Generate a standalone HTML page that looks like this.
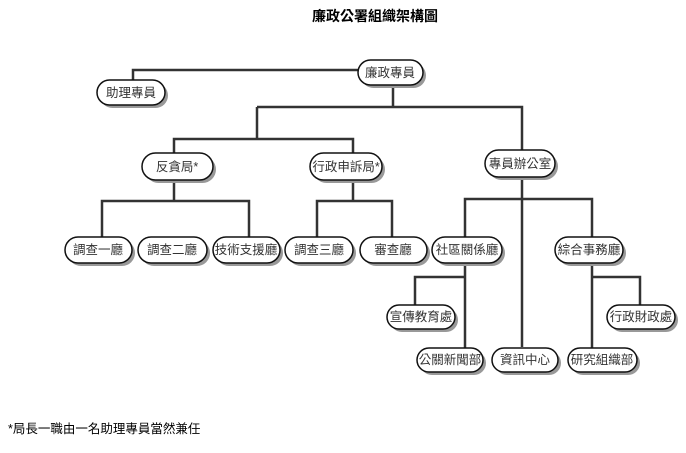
<!DOCTYPE html>
<html><head><meta charset="utf-8"><style>
body{margin:0;background:#fff;width:686px;height:448px;overflow:hidden}
text{font-family:"Liberation Sans","Noto Sans CJK TC",sans-serif}
</style></head><body>
<svg width="686" height="448" xmlns="http://www.w3.org/2000/svg">
<text x="375" y="21" font-size="14" font-weight="bold" text-anchor="middle" fill="#000">廉政公署組織架構圖</text>
<text x="8" y="433" font-size="12.5" fill="#000">*局長一職由一名助理專員當然兼任</text>
<g stroke="#333" stroke-width="2.5" fill="none">
<polyline points="133,80 133,70 358,70"/>
<polyline points="393,85 393,107"/>
<polyline points="257,107 522,107 522,150"/>
<polyline points="257,107 257,139"/>
<polyline points="174,153 174,139 353,139 353,153"/>
<polyline points="174,180 174,201"/>
<polyline points="102,237 102,201 249,201 249,237"/>
<polyline points="353,180 353,201"/>
<polyline points="317,237 317,201 392,201 392,237"/>
<polyline points="522,177 522,347"/>
<polyline points="465,237 465,199 592,199 592,237"/>
<polyline points="465,262 465,348"/>
<polyline points="415,305 415,277 465,277"/>
<polyline points="592,262 592,348"/>
<polyline points="592,277 640,277 640,305"/>
</g>
<g font-size="12.5" fill="#333" text-anchor="middle">
<!-- nodes: x1,x2,y1,y2 -->
<g>
<rect x="361" y="63" width="65" height="25" rx="12.5" fill="#999"/>
<rect x="358" y="60" width="65" height="25" rx="12.5" fill="#fff" stroke="#111" stroke-width="1.5"/>
<text x="390" y="77">廉政專員</text>
</g>
<g>
<rect x="100" y="83" width="68" height="25" rx="12.5" fill="#999"/>
<rect x="97" y="80" width="68" height="25" rx="12.5" fill="#fff" stroke="#111" stroke-width="1.5"/>
<text x="131" y="97">助理專員</text>
</g>
<g>
<rect x="145" y="156" width="71" height="27" rx="13.5" fill="#999"/>
<rect x="142" y="153" width="71" height="27" rx="13.5" fill="#fff" stroke="#111" stroke-width="1.5"/>
<text x="177" y="171">反貪局*</text>
</g>
<g>
<rect x="313" y="156" width="72" height="27" rx="13.5" fill="#999"/>
<rect x="310" y="153" width="72" height="27" rx="13.5" fill="#fff" stroke="#111" stroke-width="1.5"/>
<text x="346" y="171">行政申訴局*</text>
</g>
<g>
<rect x="488" y="153" width="70" height="27" rx="13.5" fill="#999"/>
<rect x="485" y="150" width="70" height="27" rx="13.5" fill="#fff" stroke="#111" stroke-width="1.5"/>
<text x="520" y="168">專員辦公室</text>
</g>
<g>
<rect x="68" y="240" width="67" height="26" rx="13" fill="#999"/>
<rect x="65" y="237" width="67" height="26" rx="13" fill="#fff" stroke="#111" stroke-width="1.5"/>
<text x="98" y="254">調查一廳</text>
</g>
<g>
<rect x="141" y="240" width="69" height="26" rx="13" fill="#999"/>
<rect x="138" y="237" width="69" height="26" rx="13" fill="#fff" stroke="#111" stroke-width="1.5"/>
<text x="172" y="254">調查二廳</text>
</g>
<g>
<rect x="216" y="240" width="67" height="26" rx="13" fill="#999"/>
<rect x="213" y="237" width="67" height="26" rx="13" fill="#fff" stroke="#111" stroke-width="1.5"/>
<text x="246" y="254">技術支援廳</text>
</g>
<g>
<rect x="288" y="240" width="68" height="26" rx="13" fill="#999"/>
<rect x="285" y="237" width="68" height="26" rx="13" fill="#fff" stroke="#111" stroke-width="1.5"/>
<text x="319" y="254">調查三廳</text>
</g>
<g>
<rect x="363" y="240" width="67" height="26" rx="13" fill="#999"/>
<rect x="360" y="237" width="67" height="26" rx="13" fill="#fff" stroke="#111" stroke-width="1.5"/>
<text x="393" y="254">審查廳</text>
</g>
<g>
<rect x="435" y="240" width="70" height="26" rx="13" fill="#999"/>
<rect x="432" y="237" width="70" height="26" rx="13" fill="#fff" stroke="#111" stroke-width="1.5"/>
<text x="467" y="254">社區關係廳</text>
</g>
<g>
<rect x="558" y="240" width="68" height="26" rx="13" fill="#999"/>
<rect x="555" y="237" width="68" height="26" rx="13" fill="#fff" stroke="#111" stroke-width="1.5"/>
<text x="589" y="254">綜合事務廳</text>
</g>
<g>
<rect x="390" y="308" width="68" height="24" rx="12" fill="#999"/>
<rect x="387" y="305" width="68" height="24" rx="12" fill="#fff" stroke="#111" stroke-width="1.5"/>
<text x="421" y="321">宣傳教育處</text>
</g>
<g>
<rect x="610" y="308" width="68" height="24" rx="12" fill="#999"/>
<rect x="607" y="305" width="68" height="24" rx="12" fill="#fff" stroke="#111" stroke-width="1.5"/>
<text x="641" y="321">行政財政處</text>
</g>
<g>
<rect x="420" y="351" width="66" height="24" rx="12" fill="#999"/>
<rect x="417" y="348" width="66" height="24" rx="12" fill="#fff" stroke="#111" stroke-width="1.5"/>
<text x="450" y="364">公關新聞部</text>
</g>
<g>
<rect x="495" y="351" width="66" height="24" rx="12" fill="#999"/>
<rect x="492" y="348" width="66" height="24" rx="12" fill="#fff" stroke="#111" stroke-width="1.5"/>
<text x="525" y="364">資訊中心</text>
</g>
<g>
<rect x="571" y="351" width="69" height="24" rx="12" fill="#999"/>
<rect x="568" y="348" width="69" height="24" rx="12" fill="#fff" stroke="#111" stroke-width="1.5"/>
<text x="602" y="364">研究組織部</text>
</g>
</g>
</svg>
</body></html>
